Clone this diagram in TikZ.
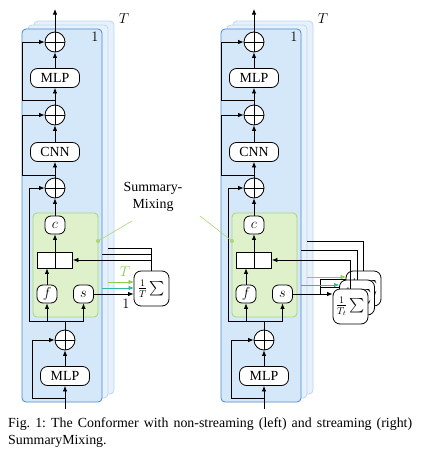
\documentclass[tikz,border=0pt]{standalone}
\usepackage{amsmath}
\usepackage{fontspec}
\setmainfont{Liberation Serif}
\usetikzlibrary{arrows.meta,calc}
\frenchspacing
\definecolor{panelfill}{HTML}{D5E8F9}
\definecolor{paneldraw}{HTML}{4A88D2}
\definecolor{backfill}{HTML}{E6F1FC}
\definecolor{backdraw}{HTML}{BBD7F1}
\definecolor{greenfill}{HTML}{DEF1CB}
\definecolor{greendraw}{HTML}{A6D774}
\definecolor{tgreen}{HTML}{8DCB4E}
\definecolor{tteal}{HTML}{35B5A6}
\definecolor{callout}{HTML}{A8D870}
\tikzset{
 every node/.style={font={\fontsize{13.9}{16.7}\selectfont}},
 wire/.style={line width=0.8pt, draw=black},
 arr/.style={wire, -{Latex[length=5.5pt,width=4.5pt]}},
 sumop/.style={circle, draw, line width=0.8pt, fill=white, minimum size=20pt, inner sep=0pt,
   path picture={\draw[line width=0.8pt] (path picture bounding box.north) -- (path picture bounding box.south) (path picture bounding box.west) -- (path picture bounding box.east);}},
 layerbox/.style={draw, line width=0.8pt, fill=white, rounded corners=7pt, minimum width=49pt, minimum height=19pt, inner sep=0pt},
 smallbox/.style={draw, line width=0.8pt, fill=white, rounded corners=6pt, minimum width=20pt, minimum height=18pt, inner sep=0pt},
 catbox/.style={draw, line width=0.8pt, fill=white, minimum width=35pt, minimum height=16pt, inner sep=0pt},
 avgbox/.style={draw, line width=0.8pt, fill=white, rounded corners=7pt, minimum width=35pt, minimum height=35pt, inner sep=0pt},
 mainpanel/.style={draw=paneldraw, fill=panelfill, line width=0.8pt, rounded corners=4pt},
 backpanel/.style={draw=backdraw, fill=backfill, line width=0.8pt, rounded corners=4pt},
 smbox/.style={draw=greendraw, fill=greenfill, line width=0.8pt, rounded corners=4pt},
 calloutline/.style={draw=callout, line width=0.6pt},
}
\newcommand\conformer[2]{%
\begin{scope}[xshift=#2pt]
\draw[backpanel] (34,21) rectangle (114,394);
\draw[backpanel] (28,25) rectangle (108,398);
\draw[mainpanel] (22,29) rectangle (102,402);
\node (#1T) at (124,19) {$T$};
\node (#1one) at (95,37) {$1$};
\draw[smbox] (33,213) rectangle (98,317);
\node[sumop] (#1o1) at (55,42) {};
\node[layerbox] (#1mlpa) at (55,78) {MLP};
\node[sumop] (#1o2) at (55,115) {};
\node[layerbox] (#1cnn) at (55,152) {CNN};
\node[sumop] (#1o3) at (55,188) {};
\node[smallbox] (#1c) at (55,225) {$c$};
\node[catbox] (#1cat) at (55,260) {};
\node[smallbox] (#1f) at (47,294) {$f$};
\node[smallbox] (#1s) at (83.5,294) {$s$};
\node[sumop] (#1o4) at (65,340) {};
\node[layerbox] (#1mlpb) at (65,376) {MLP};
\coordinate (#1in) at (65,409);
\coordinate (#1out) at (55,9);
\draw[arr] (#1in) -- (#1mlpb);
\draw[arr] (65,398) -- (32,398) -- (32,340) -- (#1o4.west);
\draw[arr] (#1mlpb) -- (#1o4);
\draw[wire] (#1o4.north) -- (65,321);
\draw[wire] (29,321) -- (83.5,321);
\draw[arr] (47,321) -- (#1f.south);
\draw[arr] (83.5,321) -- (#1s.south);
\draw[arr] (29,321) -- (29,188) -- (#1o3.west);
\draw[arr] (#1f.north) -- (#1f.north |- #1cat.south);
\draw[wire] (#1cat.north) -- (#1cat.south);
\draw[arr] (#1cat.north) -- (#1c.south);
\draw[arr] (#1c) -- (#1o3);
\draw[arr] (#1o3) -- (#1cnn);
\draw[arr] (55,175) -- (22.5,175) -- (22.5,115) -- (#1o2.west);
\draw[arr] (#1cnn) -- (#1o2);
\draw[arr] (#1o2) -- (#1mlpa);
\draw[arr] (55,100) -- (22.5,100) -- (22.5,42) -- (#1o1.west);
\draw[arr] (#1mlpa) -- (#1o1);
\draw[arr] (#1o1) -- (#1out);
\end{scope}}
\begin{document}
\begin{tikzpicture}[x=1pt,y=-1pt]
\useasboundingbox (0,0) rectangle (421,458);
\conformer{L}{0}
\conformer{R}{199}
% left: non-streaming summary
\node[avgbox] (Lavg) at (151.5,288.5) {$\frac{1}{T}\sum$};
\draw[arr] (Ls.east) -- (Ls.east -| Lavg.west);
\node (Lone) at (126,304) {$1$};
\draw[arr, draw=tgreen] (108,282) -- (134,282);
\node[text=tgreen] (LT) at (125,272) {$T$};
\draw[arr, draw=tteal] (102,288) -- (134,288);
\draw[wire] (Lavg.north) -- (151.5,248) -- (108,248);
\draw[wire] (151.5,254) -- (102,254);
\draw[arr] (151.5,260) -- (Lcat.east);
% right: streaming summary
\node[avgbox] (Rback) at (363.5,288.5) {$\frac{1}{T_t}\sum$};
\node[avgbox] (Rmid) at (357,297.5) {$\frac{1}{T_t}\sum$};
\node[avgbox] (Rfront) at (350.5,306.5) {$\frac{1}{T_t}\sum$};
\draw[wire] (320,294) -- (320,279) -- (346,279);
\draw[wire] (320,287) -- (339.5,287);
\draw[arr] (Rs.east) -- (Rs.east -| Rfront.west);
\draw[arr, draw=tgreen] (307,277) -- (346,277);
\draw[arr, draw=tteal] (301,285) -- (339.5,285);
\draw[wire] (Rback.north) -- (363.5,241) -- (307,241);
\draw[wire] (Rmid.north) -- (357,250) -- (301,250);
\draw[arr] (Rfront.north) -- (350.5,260) -- (Rcat.east);
% callout
\node[align=center, inner sep=0pt] (SM) at (153,197) {Summary-\\Mixing};
\coordinate (dotL) at (98,241);
\coordinate (dotR) at (232,241);
\draw[calloutline] (132,221) -- (dotL);
\draw[calloutline] (200,216) -- (dotR);
\fill[callout] (dotL) circle (2pt);
\fill[callout] (dotR) circle (2pt);
% caption
\node[anchor=north west, text width=404pt, align=justify, inner sep=0pt] (cap) at (8,418)
 {Fig. 1: The Conformer with non-streaming (left) and streaming (right) SummaryMixing.};
\end{tikzpicture}
\end{document}
